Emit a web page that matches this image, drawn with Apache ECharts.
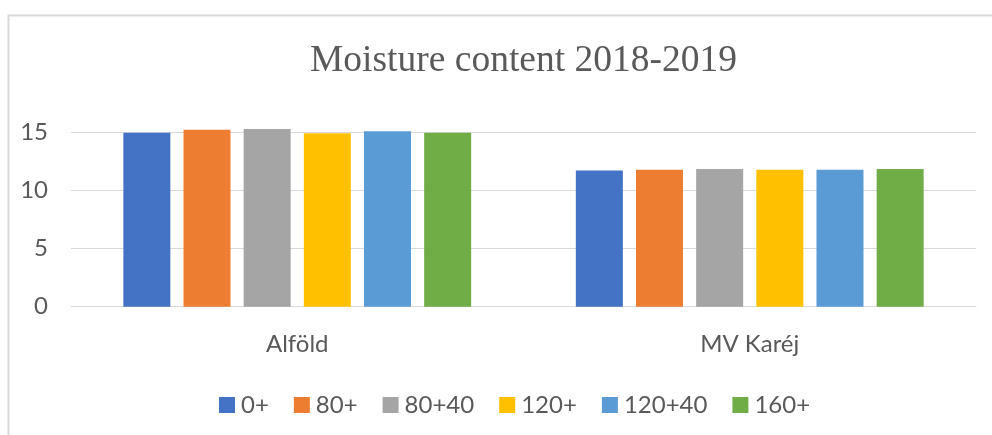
<!DOCTYPE html>
<html>
<head>
<meta charset="utf-8">
<script src="https://cdn.jsdelivr.net/npm/echarts@6/dist/echarts.min.js"></script>
<style>
html,body{margin:0;padding:0;background:#fff;}
#chart{width:992px;height:435px;}
</style>
</head>
<body>
<div id="chart"></div>
<script>
var categories = ['Alföld', 'MV Karéj'];
var seriesNames = ['0+', '80+', '80+40', '120+', '120+40', '160+'];
var s0 = [15.0, 11.75];
var s80 = [15.25, 11.8];
var s8040 = [15.32, 11.87];
var s120 = [14.95, 11.8];
var s12040 = [15.12, 11.8];
var s160 = [15.0, 11.87];
var yTicks = [0, 5, 10, 15];
var colors = ['#4472C4', '#ED7D31', '#A5A5A5', '#FFC000', '#5B9BD5', '#70AD47'];

var values = [s0, s80, s8040, s120, s12040, s160];
var chart = echarts.init(document.getElementById('chart'));
var textColor = '#595959';
var font = 'Lato';
chart.setOption({
  animation: false,
  color: colors,
  title: {
    text: 'Moisture content 2018-2019',
    left: 305,
    top: 37,
    textStyle: {fontFamily: 'Liberation Serif', fontSize: 37.5, fontWeight: 'normal', color: textColor}
  },
  graphic: [{
    type: 'rect', left: 6, top: 13,
    shape: {x: 0, y: 0, width: 1100, height: 600},
    style: {fill: 'none', stroke: '#d9d9d9', lineWidth: 2},
    silent: true
  }],
  legend: {
    top: 388,
    left: 214,
    icon: 'rect',
    itemWidth: 16,
    itemHeight: 16,
    itemGap: 25,
    textStyle: {fontFamily: font, fontSize: 24, color: textColor, padding: [0, 0, 0, 1]},
    data: seriesNames
  },
  grid: {left: 71, right: 16, top: 132.7, bottom: 128.3},
  xAxis: {
    type: 'category',
    data: categories,
    axisLine: {lineStyle: {color: '#d9d9d9', width: 1}},
    axisTick: {show: false},
    axisLabel: {fontFamily: font, fontSize: 24, color: textColor, margin: 26}
  },
  yAxis: {
    type: 'value',
    min: yTicks[0],
    max: yTicks[yTicks.length - 1],
    interval: 5,
    axisLine: {show: false},
    axisTick: {show: false},
    splitLine: {lineStyle: {color: '#d9d9d9', width: 1}},
    axisLabel: {fontFamily: font, fontSize: 24, color: textColor, margin: 23}
  },
  series: seriesNames.map(function (n, i) {
    return {
      name: n, type: 'bar', data: values[i],
      barWidth: 47, barGap: '28%', clip: false,
      itemStyle: {color: colors[i]}
    };
  })
});
</script>
</body>
</html>
